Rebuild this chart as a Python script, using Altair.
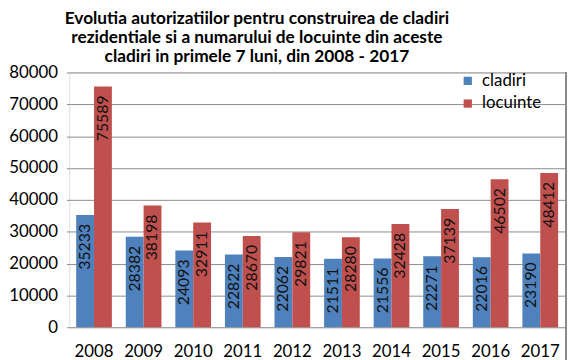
import altair as alt
import pandas as pd

years = ["2008", "2009", "2010", "2011", "2012", "2013", "2014", "2015", "2016", "2017"]
cladiri = [35233, 28382, 24093, 22822, 22062, 21511, 21556, 22271, 22016, 23190]
locuinte = [75589, 38198, 32911, 28670, 29821, 28280, 32428, 37139, 46502, 48412]
series = ["cladiri", "locuinte"]
colors = ["#4F81BD", "#C0504D"]
title_lines = [
    "Evolutia autorizatiilor pentru construirea de cladiri",
    "rezidentiale si a numarului de locuinte din aceste",
    "cladiri  in primele 7 luni, din 2008 - 2017",
]

rows = []
for i, y in enumerate(years):
    rows.append({"an": y, "serie": series[0], "val": cladiri[i]})
    rows.append({"an": y, "serie": series[1], "val": locuinte[i]})
df = pd.DataFrame(rows)

FONT = "Lato"

x = alt.X("an:N", title=None,
          scale=alt.Scale(paddingInner=0.28, paddingOuter=0.14),
          axis=alt.Axis(labelAngle=0, labelFontSize=17, labelPadding=17, labelColor="black",
                        domain=False, ticks=False, labelFont=FONT))
y = alt.Y("val:Q", title=None,
          scale=alt.Scale(domain=[0, 80000]),
          axis=alt.Axis(values=list(range(0, 80001, 10000)), format="d", labelFontSize=17,
                        labelColor="black", labelFont=FONT, gridColor="#8c8c8c", gridWidth=1,
                        domain=False, tickColor="#8c8c8c", tickSize=3, labelPadding=9))
color = alt.Color("serie:N", scale=alt.Scale(domain=series, range=colors),
                  legend=alt.Legend(title=None, orient="none", legendX=395, legendY=0,
                                    symbolType="square", symbolSize=70, labelFontSize=17,
                                    labelFont=FONT, labelColor="black", rowPadding=5,
                                    symbolStrokeWidth=0, labelOffset=6))

base = alt.Chart(df).encode(x=x, y=y, xOffset=alt.XOffset("serie:N", sort=series))

bars = base.mark_bar().encode(color=color)
labels = base.mark_text(angle=270, align="right", baseline="middle", dx=-9,
                        fontSize=16, font=FONT, color="#111111").encode(text="val:Q")
border = alt.Chart(df).mark_rule(color="#8c8c8c", strokeWidth=1).encode(
    x=alt.value(503), y=alt.value(0), y2=alt.value(300))

chart = (bars + labels + border).properties(
    width=502, height=258,
    title=alt.TitleParams(text=title_lines, fontSize=17.5, font=FONT, fontWeight="bold",
                          lineHeight=19.5, anchor="middle", offset=8, dy=10, dx=-61,
                          color="black"),
    autosize=alt.AutoSizeParams(type="none"),
    padding={"left": 62, "top": 63, "right": 4, "bottom": 40},
).configure_view(stroke=None).configure(background="white")

chart.save("out.html", embed_options={"renderer": "svg", "actions": False})
